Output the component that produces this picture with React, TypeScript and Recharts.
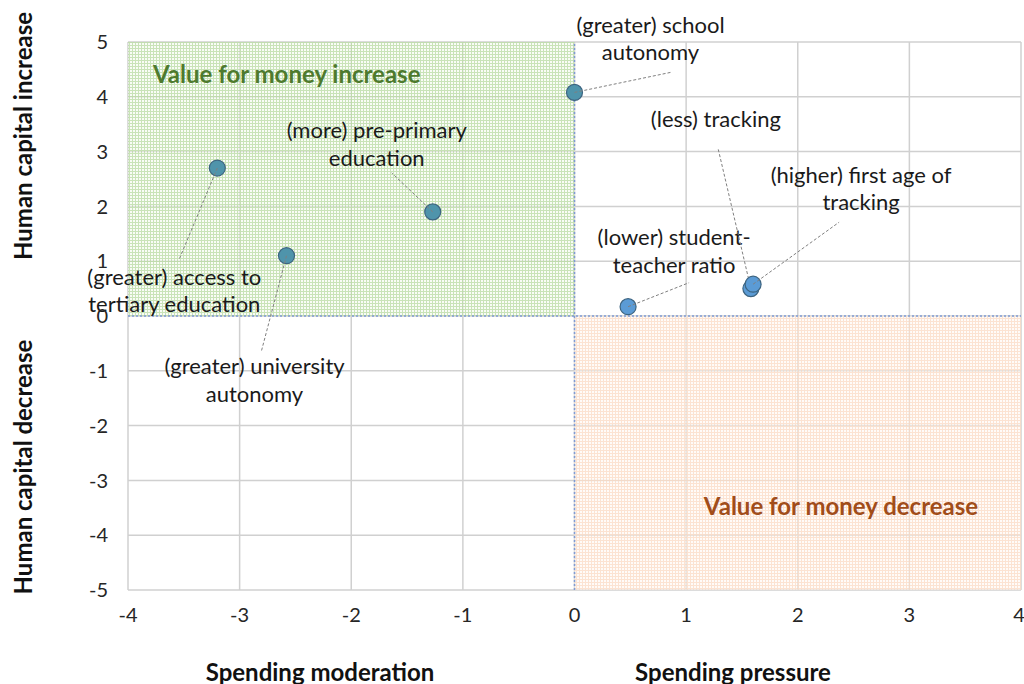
import React from 'react';
import { ScatterChart, Scatter, XAxis, YAxis, CartesianGrid, ReferenceArea, ReferenceLine, Cell } from 'recharts';

const policies = [
  ['(greater) access to', 'tertiary education'],
  ['(greater) university', 'autonomy'],
  ['(more) pre-primary', 'education'],
  ['(greater) school', 'autonomy'],
  ['(lower) student-', 'teacher ratio'],
  ['(less) tracking'],
  ['(higher) first age of', 'tracking'],
];
const spending = [-3.2, -2.58, -1.27, 0, 0.48, 1.58, 1.6];
const humanCapital = [2.7, 1.1, 1.9, 4.08, 0.17, 0.5, 0.58];

const xTicks = [-4, -3, -2, -1, 0, 1, 2, 3, 4];
const yTicks = [-5, -4, -3, -2, -1, 0, 1, 2, 3, 4, 5];

// label placement (pixels relative to the point): text centre and leader line end
const labelPlacement = [
  { dx: -43, dy: 111, lx: -38, ly: 91 },
  { dx: -32, dy: 113, lx: -25, ly: 95 },
  { dx: -56, dy: -79, lx: -41, ly: -39 },
  { dx: 76, dy: -65, lx: 96, ly: -20 },
  { dx: 46, dy: -67, lx: 61, ly: -24 },
  { dx: -35, dy: -167, lx: -33, ly: -141 },
  { dx: 108, dy: -107, lx: 86, ly: -62 },
];

const data = spending.map((x, i) => ({ x, y: humanCapital[i], lines: policies[i], i }));

const FONT = 'Lato, "Open Sans", sans-serif';

const PointShape = (props: any) => {
  const { cx, cy, payload, fill } = props;
  const p = labelPlacement[payload.i];
  const lines: string[] = payload.lines;
  return (
    <g>
      <circle cx={cx} cy={cy} r={8} fill={fill} stroke="#3d6480" strokeWidth={1.2} />
      <line x1={cx} y1={cy} x2={cx + p.lx} y2={cy + p.ly} stroke="#7f7f7f" strokeWidth={1} strokeDasharray="3 2" />
      {lines.map((t, k) => (
        <text
          key={k}
          x={cx + p.dx}
          y={cy + p.dy + k * 27.5}
          textAnchor="middle"
          dominantBaseline="middle"
          fontFamily={FONT}
          fontSize={22}
          fill="#1a1a1a"
        >
          {t}
        </text>
      ))}
    </g>
  );
};

const titleStyle: React.CSSProperties = {
  position: 'absolute',
  fontFamily: FONT,
  fontWeight: 700,
  fontSize: 24,
  color: '#111',
  whiteSpace: 'nowrap',
};

const App: React.FC = () => {
  return (
    <div style={{ position: 'absolute', left: 0, top: 0, width: 1024, height: 684, background: '#fff' }}>
      <svg width={0} height={0} style={{ position: 'absolute' }}>
        <defs>
          <pattern id="greenGrid" width={3} height={3} patternUnits="userSpaceOnUse">
            <rect width={3} height={3} fill="#f1f8ec" fillOpacity={0.6} />
            <path d="M0 0.5H3M0.5 0V3" stroke="#bcdca6" strokeWidth={1} />
          </pattern>
          <pattern id="orangeGrid" width={3} height={3} patternUnits="userSpaceOnUse">
            <rect width={3} height={3} fill="#fff6f0" fillOpacity={0.6} />
            <path d="M0 0.5H3M0.5 0V3" stroke="#fbdcc7" strokeWidth={1} />
          </pattern>
        </defs>
      </svg>
      <ScatterChart width={1024} height={684} margin={{ top: 42, right: 3, left: 0, bottom: 0 }}>
        <CartesianGrid stroke="#d0d0d0" strokeWidth={1.5} />
        <ReferenceArea x1={-4} x2={0} y1={0} y2={5} fill="url(#greenGrid)" fillOpacity={0.8} stroke="none" />
        <ReferenceArea x1={0} x2={4} y1={-5} y2={0} fill="url(#orangeGrid)" fillOpacity={0.8} stroke="none" />
        <XAxis
          type="number"
          dataKey="x"
          domain={[-4, 4]}
          ticks={xTicks}
          height={94}
          axisLine={false}
          tickLine={false}
          tickSize={0}
          tickMargin={18}
          tick={{ fontSize: 20, fill: '#262626', fontFamily: FONT }}
        />
        <YAxis
          type="number"
          dataKey="y"
          domain={[-5, 5]}
          ticks={yTicks}
          width={128}
          axisLine={false}
          tickLine={false}
          tickSize={0}
          tickMargin={20}
          tick={{ fontSize: 20, fill: '#262626', fontFamily: FONT }}
        />
        <ReferenceLine y={0} stroke="#7f9bd4" strokeWidth={1.5} strokeDasharray="2 2" />
        <ReferenceLine x={0} stroke="#7f9bd4" strokeWidth={1.5} strokeDasharray="2 2" />
        <Scatter data={data} shape={<PointShape />} isAnimationActive={false}>
          {data.map((d, i) => (
            <Cell key={i} fill={d.x < 0 || (d.x === 0 && d.y > 0) ? '#4f94ab' : '#5b9bd5'} />
          ))}
        </Scatter>
      </ScatterChart>
      <div style={{ ...titleStyle, left: 153, top: 73, transform: 'translateY(-50%)', color: '#4e7a2e' }}>
        Value for money increase
      </div>
      <div style={{ ...titleStyle, left: 841, top: 505, transform: 'translate(-50%, -50%)', color: '#a14d1a' }}>
        Value for money decrease
      </div>
      <div style={{ ...titleStyle, left: 320, top: 671, transform: 'translate(-50%, -50%)' }}>
        Spending moderation
      </div>
      <div style={{ ...titleStyle, left: 733, top: 671, transform: 'translate(-50%, -50%)' }}>
        Spending pressure
      </div>
      <div style={{ ...titleStyle, left: 22, top: 136, transform: 'translate(-50%, -50%) rotate(-90deg)' }}>
        Human capital increase
      </div>
      <div style={{ ...titleStyle, left: 22, top: 467, transform: 'translate(-50%, -50%) rotate(-90deg)' }}>
        Human capital decrease
      </div>
    </div>
  );
};

export default App;
